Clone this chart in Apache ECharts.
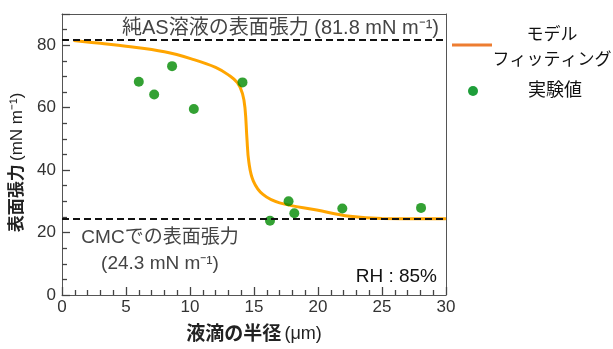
<!DOCTYPE html>
<html>
<head>
<meta charset="utf-8">
<script src="https://cdn.jsdelivr.net/npm/echarts@6/dist/echarts.min.js"></script>
<style>
  html, body { margin: 0; padding: 0; background: #fff; }
  #chart { width: 613px; height: 349px; }
</style>
</head>
<body>
<div id="chart"></div>
<script>
// 実験値 (半径 μm, 表面張力 mN/m)
var expData = [
  [6.0, 68.3], [7.2, 64.2], [8.6, 73.3], [10.3, 59.6], [14.1, 68.1],
  [16.25, 23.8], [17.7, 30.0], [18.15, 26.2], [21.9, 27.7], [28.05, 27.9]
];
// モデルフィッティング曲線
var fitData = [
  [0.9, 81.5], [3, 80.6], [5, 79.7], [8, 77.9], [10.3, 75.4], [12, 72.9],
  [13, 70.5], [13.7, 68.0], [14.1, 64.5], [14.3, 59.7], [14.45, 50.0],
  [14.6, 42.5], [14.95, 36.5], [15.7, 32.2], [17, 29.5], [19.9, 27.2],
  [22.5, 25.2], [25, 24.5], [30, 24.4]
];
var pureAS = 81.8;   // 純AS溶液の表面張力
var cmcST = 24.3;    // CMCでの表面張力

var chart = echarts.init(document.getElementById('chart'));
var font = '"Liberation Sans", "Noto Sans CJK JP", sans-serif';
var axisColor = '#555';
var tickStyle = { color: '#444', width: 1.3 };

// 枠線用の上・右の軸（ラベルなし）
function frameAxis(pos, max) {
  return {
    type: 'value', position: pos, min: 0, max: max,
    axisLine: { show: true, onZero: false, lineStyle: { color: axisColor } },
    axisTick: { show: false }, axisLabel: { show: false }, splitLine: { show: false }
  };
}

var option = {
  animation: false,
  textStyle: { fontFamily: font },
  grid: { left: 62, right: 167, top: 14, bottom: 52 },
  xAxis: [{
    type: 'value',
    min: 0, max: 30, interval: 5,
    name: '{b|液滴の半径} {n|(μm)}',
    nameLocation: 'middle',
    nameGap: 30,
    nameTextStyle: {
      rich: {
        b: { fontSize: 19, fontWeight: 'bold', color: '#222', fontFamily: font },
        n: { fontSize: 18, color: '#222', fontFamily: font }
      }
    },
    axisLine: { show: true, onZero: false, lineStyle: { color: axisColor } },
    axisTick: { show: true, inside: true, length: 8, lineStyle: tickStyle },
    minorTick: { show: true, splitNumber: 5, length: 5, lineStyle: tickStyle },
    splitLine: { show: false },
    axisLabel: { fontSize: 17, color: '#333', margin: 4, fontFamily: 'Liberation Sans' }
  }, frameAxis('top', 30)],
  yAxis: [{
    type: 'value',
    min: 0, max: 90, interval: 20,
    name: '{b|表面張力} {n|(mN m⁻¹)}',
    nameLocation: 'middle',
    nameGap: 35,
    nameTextStyle: {
      padding: [0, 16, 0, 0],
      rich: {
        b: { fontSize: 17, fontWeight: 'bold', color: '#222', fontFamily: font },
        n: { fontSize: 17, color: '#222', fontFamily: font }
      }
    },
    axisLine: { show: true, onZero: false, lineStyle: { color: axisColor } },
    axisTick: { show: true, inside: true, length: 8, lineStyle: tickStyle },
    minorTick: { show: true, splitNumber: 4, length: 5, lineStyle: tickStyle },
    splitLine: { show: false },
    axisLabel: { fontSize: 17, color: '#333', margin: 6, showMaxLabel: false, fontFamily: 'Liberation Sans' }
  }, frameAxis('right', 90)],
  series: [
    {
      name: 'モデルフィッティング',
      type: 'line',
      data: fitData,
      showSymbol: false,
      smooth: 0.4,
      lineStyle: { color: '#FFA500', width: 3 },
      z: 2
    },
    {
      name: 'ref',
      type: 'line',
      data: [],
      markLine: {
        silent: true,
        symbol: 'none',
        label: { show: false },
        lineStyle: { color: '#111', type: [7, 4], width: 2 },
        data: [{ yAxis: pureAS }, { yAxis: cmcST }]
      },
      z: 3
    },
    {
      name: '実験値',
      type: 'scatter',
      data: expData,
      symbolSize: 10,
      itemStyle: { color: '#008A00' },
      z: 4
    }
  ],
  graphic: [
    {
      type: 'text', x: 439, y: 28,
      style: {
        text: '純AS溶液の表面張力 (81.8 mN m⁻¹)', align: 'right', verticalAlign: 'middle',
        font: '20px ' + font, fill: '#444'
      }
    },
    {
      type: 'text', x: 160, y: 251,
      style: {
        text: 'CMCでの表面張力\n(24.3 mN m⁻¹)', align: 'center', verticalAlign: 'middle', lineHeight: 26,
        font: '19px ' + font, fill: '#444'
      }
    },
    {
      type: 'text', x: 437, y: 277,
      style: { text: 'RH : 85%', align: 'right', verticalAlign: 'middle', font: '19px ' + font, fill: '#111' }
    },
    // 凡例
    {
      type: 'line', shape: { x1: 452, y1: 45, x2: 492, y2: 45 },
      style: { stroke: '#ED7D31', lineWidth: 3 }
    },
    {
      type: 'text', x: 552, y: 48,
      style: {
        text: 'モデル\nフィッティング', align: 'center', verticalAlign: 'middle', lineHeight: 25,
        font: '17px ' + font, fill: '#111'
      }
    },
    {
      type: 'circle', shape: { cx: 473, cy: 91, r: 5 },
      style: { fill: '#1E9E3A' }
    },
    {
      type: 'text', x: 555, y: 91,
      style: { text: '実験値', align: 'center', verticalAlign: 'middle', font: '18px ' + font, fill: '#111' }
    }
  ]
};
chart.setOption(option);
</script>
</body>
</html>
